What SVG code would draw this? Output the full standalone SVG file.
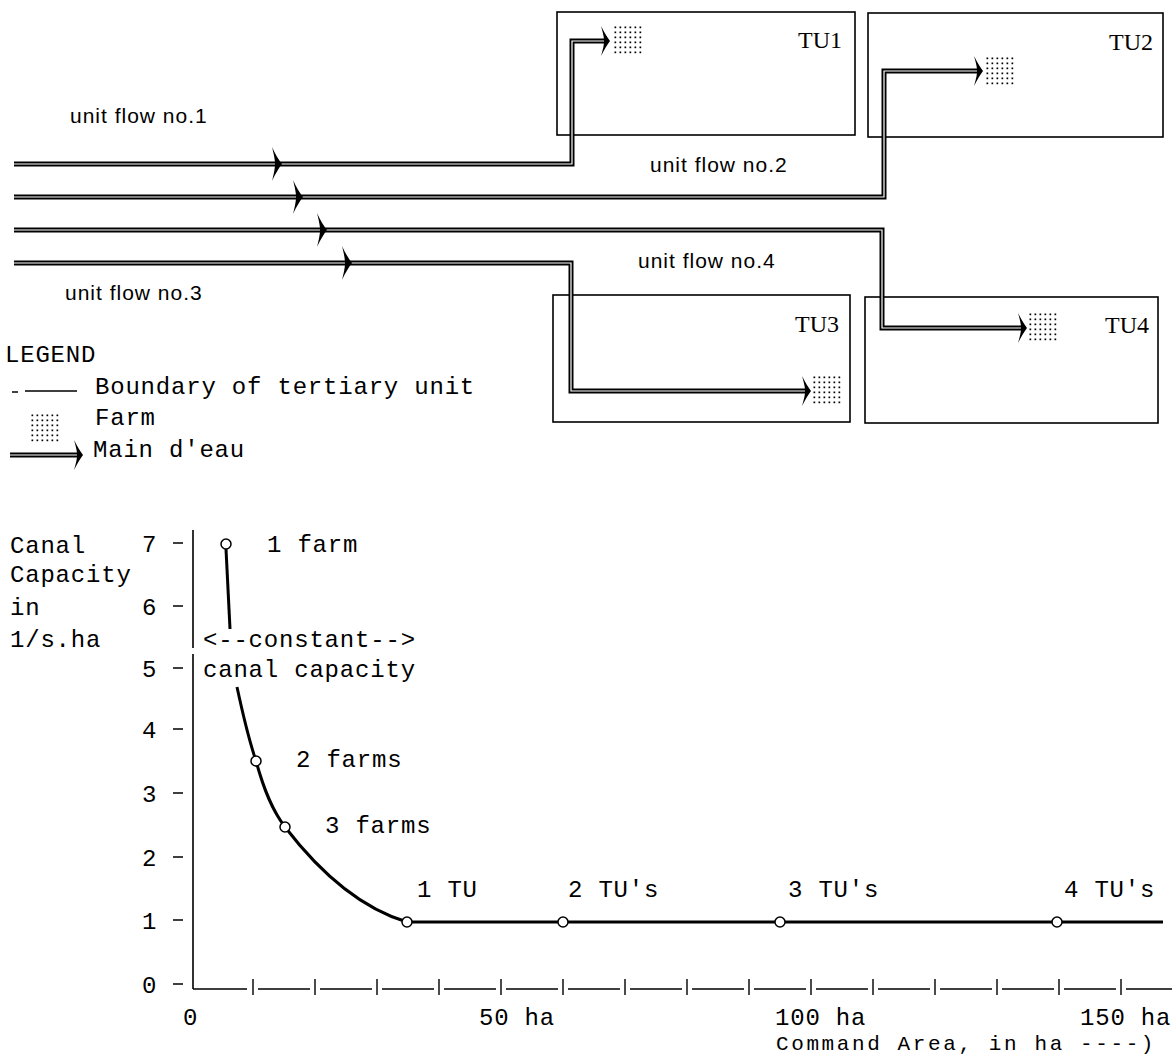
<svg xmlns="http://www.w3.org/2000/svg" xmlns:xlink="http://www.w3.org/1999/xlink" width="1175" height="1056" viewBox="0 0 1175 1056">
<style>
.bg{fill:#fff}
.box{fill:none;stroke:#000;stroke-width:1.6}
.flow{fill:none;stroke:#000;stroke-width:5;stroke-linejoin:miter}
.flowin{fill:none;stroke:#fff;stroke-width:1.2;stroke-linejoin:miter}
.sans{font-family:"Liberation Sans",Arial,sans-serif;font-size:21px;letter-spacing:1px;fill:#000}
.mono{font-family:"Liberation Mono","Courier New",monospace;font-size:24px;letter-spacing:0.8px;fill:#000}
.small{font-family:"Liberation Mono","Courier New",monospace;font-size:21px;letter-spacing:2.6px;fill:#000}
.tu{font-family:"Liberation Serif","Times New Roman",serif;font-size:24px;fill:#000}
.axis{fill:none;stroke:#000;stroke-width:1.6}
.tick{fill:none;stroke:#000;stroke-width:1.4}
.curve{fill:none;stroke:#000;stroke-width:3}
.pt{fill:#fff;stroke:#000;stroke-width:1.5}
</style>
<defs>
<pattern id="dots" x="0" y="0" width="5" height="5" patternUnits="userSpaceOnUse">
<rect x="1.5" y="1.5" width="1.7" height="1.7" fill="#000"/>
</pattern>
<g id="farm"><rect x="0" y="0" width="30" height="30" fill="url(#dots)"/></g>
<path id="arr" d="M0,0 C-3,-4 -7,-10 -10,-17 C-8,-9 -7,-4 -7,0 C-7,4 -8,9 -10,17 C-7,10 -3,4 0,0Z" fill="#000"/>
<path id="arrs" d="M0,0 C-3,-4 -6,-9 -9,-15 C-7,-8 -6,-4 -6,0 C-6,4 -7,8 -9,15 C-6,9 -3,4 0,0Z" fill="#000"/>
</defs>
<rect class="bg" x="0" y="0" width="1175" height="1056"/>

<g id="tu1"><rect class="box" x="557" y="12" width="298" height="123"/><text class="tu" x="798" y="48">TU1</text><use xlink:href="#farm" x="613" y="25"/></g>
<g id="tu2"><rect class="box" x="868" y="13" width="295" height="124"/><text class="tu" x="1109" y="50">TU2</text><use xlink:href="#farm" x="985" y="56"/></g>
<g id="tu3"><rect class="box" x="553" y="295" width="297" height="127"/><text class="tu" x="795" y="332">TU3</text><use xlink:href="#farm" x="812" y="375"/></g>
<g id="tu4"><rect class="box" x="865" y="297" width="293" height="126"/><text class="tu" x="1105" y="333">TU4</text><use xlink:href="#farm" x="1028" y="312"/></g>

<g id="connectors">
<path class="flow" d="M14,164 H572 V41 H606"/>
<path class="flow" d="M14,197 H884 V71 H978"/>
<path class="flow" d="M14,230 H882 V328 H1022"/>
<path class="flow" d="M14,263 H571 V391 H806"/>
<path class="flowin" d="M14,164 H572 V41 H606"/>
<path class="flowin" d="M14,197 H884 V71 H978"/>
<path class="flowin" d="M14,230 H882 V328 H1022"/>
<path class="flowin" d="M14,263 H571 V391 H806"/>
<use xlink:href="#arr" x="282" y="164"/>
<use xlink:href="#arr" x="303" y="197"/>
<use xlink:href="#arr" x="327" y="230"/>
<use xlink:href="#arr" x="352" y="263"/>
<use xlink:href="#arrs" x="610" y="41"/>
<use xlink:href="#arrs" x="983" y="71"/>
<use xlink:href="#arrs" x="1027" y="328"/>
<use xlink:href="#arrs" x="811" y="391"/>
</g>

<g id="flow-labels">
<text class="sans" x="70" y="123">unit flow no.1</text>
<text class="sans" x="650" y="172">unit flow no.2</text>
<text class="sans" x="65" y="300">unit flow no.3</text>
<text class="sans" x="638" y="268">unit flow no.4</text>
</g>

<g id="legend">
<text class="mono" x="5" y="362">LEGEND</text>
<path class="tick" d="M12,392 H18 M25,391 H77"/>
<text class="mono" x="95" y="394">Boundary of tertiary unit</text>
<use xlink:href="#farm" x="30" y="413"/>
<text class="mono" x="95" y="425">Farm</text>
<path class="flow" d="M10,455 H78"/>
<path class="flowin" d="M10,455 H78"/>
<use xlink:href="#arrs" x="83" y="455"/>
<text class="mono" x="93" y="457">Main d'eau</text>
</g>

<g id="chart">
<text class="mono" x="10" y="553">Canal</text>
<text class="mono" x="10" y="582">Capacity</text>
<text class="mono" x="10" y="615">in</text>
<text class="mono" x="10" y="647">1/s.ha</text>
<path class="axis" d="M193,530 V648 M193,654 V989"/>
<path class="tick" d="M173,543 H183 M173,606 H183 M173,668 H183 M173,729 H183 M173,793 H183 M173,857 H183 M173,920 H183 M173,984 H183"/>
<text class="mono" x="142" y="552">7</text>
<text class="mono" x="142" y="615">6</text>
<text class="mono" x="142" y="677">5</text>
<text class="mono" x="142" y="738">4</text>
<text class="mono" x="142" y="802">3</text>
<text class="mono" x="142" y="866">2</text>
<text class="mono" x="142" y="929">1</text>
<text class="mono" x="142" y="993">0</text>
<path class="axis" d="M193,989 H247 M258,989 H310 M320,989 H372 M382,989 H434 M444,989 H496 M506,989 H558 M568,989 H620 M630,989 H682 M692,989 H744 M754,989 H806 M816,989 H868 M878,989 H930 M940,989 H992 M1002,989 H1054 M1064,989 H1116 M1126,989 H1172"/>
<path class="tick" d="M253,979 V995 M315,979 V995 M377,979 V995 M439,979 V995 M501,979 V995 M563,979 V995 M625,979 V995 M687,979 V995 M749,979 V995 M811,979 V995 M873,979 V995 M935,979 V995 M997,979 V995 M1059,979 V995 M1121,979 V995"/>
<text class="mono" x="183" y="1025">0</text>
<text class="mono" x="479" y="1025">50 ha</text>
<text class="mono" x="775" y="1025">100 ha</text>
<text class="mono" x="1080" y="1025">150 ha</text>
<text class="small" x="776" y="1050">Command Area, in ha ----)</text>

<path class="curve" d="M226,549 L230,629"/>
<path class="curve" d="M237,687 C243,715 249,740 256,761 C264,790 272,810 285,827 C318,870 360,908 407,922 H1163"/>
<circle class="pt" cx="226" cy="544" r="5"/>
<circle class="pt" cx="256" cy="761" r="5"/>
<circle class="pt" cx="285" cy="827" r="5"/>
<circle class="pt" cx="407" cy="922" r="5"/>
<circle class="pt" cx="563" cy="922" r="5"/>
<circle class="pt" cx="780" cy="922" r="5"/>
<circle class="pt" cx="1057" cy="922" r="5"/>
<text class="mono" x="267" y="552">1 farm</text>
<text class="mono" x="203" y="647">&lt;--constant--&gt;</text>
<text class="mono" x="203" y="677">canal capacity</text>
<text class="mono" x="296" y="767">2 farms</text>
<text class="mono" x="325" y="833">3 farms</text>
<text class="mono" x="417" y="897">1 TU</text>
<text class="mono" x="568" y="897">2 TU's</text>
<text class="mono" x="788" y="897">3 TU's</text>
<text class="mono" x="1064" y="897">4 TU's</text>
</g>
</svg>
